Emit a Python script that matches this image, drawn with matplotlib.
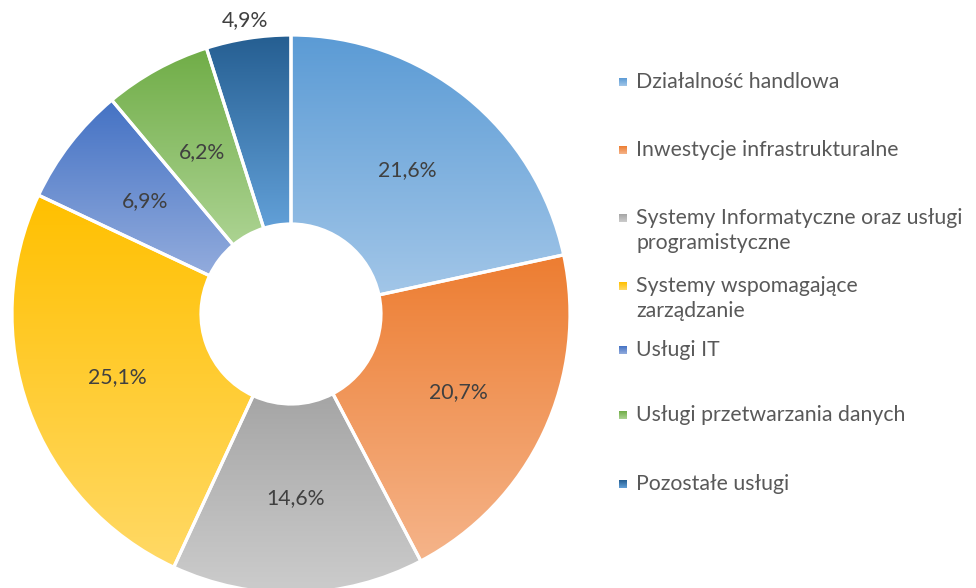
import matplotlib
matplotlib.use("Agg")
import matplotlib.pyplot as plt
import numpy as np
from matplotlib.colors import to_rgb
from matplotlib.patches import Rectangle

# --- dane
kategorie = [
    "Działalność handlowa",
    "Inwestycje infrastrukturalne",
    "Systemy Informatyczne oraz usługi\nprogramistyczne",
    "Systemy wspomagające\nzarządzanie",
    "Usługi IT",
    "Usługi przetwarzania danych",
    "Pozostałe usługi",
]
udzialy = [21.6, 20.7, 14.6, 25.1, 6.9, 6.2, 4.9]

# kolory gradientu: góra (ciemniej) -> dół (jaśniej)
kolor_gora = ["#5b9bd5", "#ed7d31", "#a5a5a5", "#ffc000", "#4472c4", "#70ad47", "#255e91"]
kolor_dol = ["#a2c6e8", "#f5b48a", "#cccccc", "#ffd966", "#93acdd", "#acd392", "#62a0d8"]

W, H = 976, 588
TXT = "#404040"
LEG = "#595959"
FONT = "Lato"
FS = 15.3

fig = plt.figure(figsize=(W / 100, H / 100), dpi=100)
ax = fig.add_axes([0, 0, 1, 1])

cx, cy = 291, H - 314
R, r_in = 279, 90

wedges, texts, autotexts = ax.pie(
    udzialy, startangle=90, counterclock=False, radius=R, center=(cx, cy),
    autopct=lambda p: f"{p:.1f}%".replace(".", ","),
    pctdistance=(R + r_in) / 2 / R,
    wedgeprops=dict(width=R - r_in, edgecolor="white", linewidth=2.3),
    textprops=dict(color=TXT, fontsize=FS, family=FONT),
)


def gradient(c_top, c_bot, n=256):
    t = np.linspace(0, 1, n)[:, None]
    a, b = np.array(to_rgb(c_bot)), np.array(to_rgb(c_top))
    return (a[None, :] * (1 - t) + b[None, :] * t)[:, None, :]


for w, ct, cb in zip(wedges, kolor_gora, kolor_dol):
    w.set_facecolor("none")
    w.set_zorder(3)
    bb = w.get_path().get_extents()
    im = ax.imshow(gradient(ct, cb), extent=[bb.x0, bb.x1, bb.y0, bb.y1],
                   origin="lower", aspect="auto", interpolation="bilinear", zorder=2)
    im.set_clip_path(w)

# etykieta małego wycinka poza pierścieniem
t = autotexts[-1]
theta = np.deg2rad(90 - 360 * (sum(udzialy[:-1]) + udzialy[-1] / 2) / 100)
t.set_position((cx + 1.065 * R * np.cos(theta), cy + 1.065 * R * np.sin(theta)))
for a in autotexts:
    a.set_zorder(5)

# --- legenda
leg_y = [82, 150, 218, 286, 350, 415, 484]
for nazwa, y, ct, cb in zip(kategorie, leg_y, kolor_gora, kolor_dol):
    y0 = H - y
    sq = Rectangle((619, y0 - 4), 8, 8, facecolor="none", edgecolor="none", zorder=3)
    ax.add_patch(sq)
    im = ax.imshow(gradient(ct, cb), extent=[619, 627, y0 - 4, y0 + 4],
                   origin="lower", aspect="auto", zorder=2)
    im.set_clip_path(sq)
    for i, linia in enumerate(nazwa.split("\n")):
        ax.text(636, y0 - 25 * i, linia, ha="left", va="center",
                fontsize=FS, color=LEG, family=FONT)

ax.set_xlim(0, W)
ax.set_ylim(0, H)
ax.set_aspect("auto")
ax.axis("off")

fig.savefig("out.png", dpi=100, facecolor="white")
